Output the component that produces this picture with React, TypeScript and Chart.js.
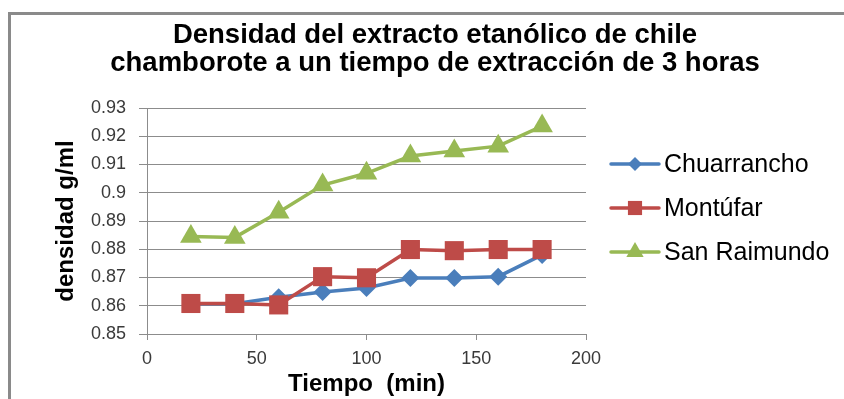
import React, { useEffect, useRef } from "react";
import { Chart, registerables } from "chart.js";

Chart.register(...registerables);

const titleLines = ["Densidad del extracto etanólico de chile", "chamborote a un tiempo de extracción de 3 horas"];
const xTitle = "Tiempo  (min)";
const yTitle = "densidad g/ml";
const tiempos = [20, 40, 60, 80, 100, 120, 140, 160, 180];
const chuarrancho = [0.8607, 0.8607, 0.863, 0.8649, 0.8663, 0.8698, 0.8698, 0.8703, 0.878];
const montufar = [0.8608, 0.8608, 0.8603, 0.8703, 0.8699, 0.8799, 0.8795, 0.8799, 0.8799];
const sanRaimundo = [0.8845, 0.8842, 0.8931, 0.9027, 0.9069, 0.913, 0.9148, 0.9165, 0.9236];
const seriesNames = ["Chuarrancho", "Montúfar", "San Raimundo"];
const seriesColors = ["#4A7EBB", "#BE4B48", "#98B954"];
const seriesShapes = ["rectRot", "rect", "triangle"];
const yTicks = { min: 0.85, max: 0.93, step: 0.01 };
const xTicks = { min: 0, max: 200, step: 50 };

function drawShape(ctx: CanvasRenderingContext2D, shape: string, x: number, y: number, r: number) {
  ctx.beginPath();
  if (shape === "rectRot") {
    ctx.moveTo(x - r, y);
    ctx.lineTo(x, y - r);
    ctx.lineTo(x + r, y);
    ctx.lineTo(x, y + r);
  } else if (shape === "rect") {
    const s = r * Math.SQRT1_2;
    ctx.rect(x - s, y - s, 2 * s, 2 * s);
  } else {
    ctx.moveTo(x, y - r);
    ctx.lineTo(x + 0.866 * r, y + 0.5 * r);
    ctx.lineTo(x - 0.866 * r, y + 0.5 * r);
  }
  ctx.closePath();
  ctx.fill();
}

const decorPlugin = {
  id: "decor",
  afterDraw(chart: any) {
    const ctx: CanvasRenderingContext2D = chart.ctx;
    ctx.save();
    // frame
    ctx.fillStyle = "#8a8a8a";
    ctx.fillRect(8, 12, 836, 3);
    ctx.fillRect(8, 12, 3, 387);
    // title
    ctx.fillStyle = "#000";
    ctx.font = "bold 27.5px 'Liberation Sans', Arial, sans-serif";
    ctx.textAlign = "center";
    ctx.textBaseline = "alphabetic";
    ctx.fillText(titleLines[0], 435, 43);
    ctx.fillText(titleLines[1], 435, 71);
    // legend
    const rows = [164, 208, 252];
    const radii = [7, 10, 10];
    ctx.font = "25px 'Liberation Sans', Arial, sans-serif";
    ctx.textAlign = "left";
    ctx.textBaseline = "middle";
    seriesNames.forEach((name, i) => {
      const y = rows[i];
      ctx.strokeStyle = seriesColors[i];
      ctx.fillStyle = seriesColors[i];
      ctx.lineWidth = 3.5;
      ctx.lineCap = "round";
      ctx.beginPath();
      ctx.moveTo(611, y);
      ctx.lineTo(659, y);
      ctx.stroke();
      drawShape(ctx, seriesShapes[i], 635, y, radii[i]);
      ctx.fillStyle = "#000";
      ctx.fillText(name, 664, y + 1);
    });
    ctx.restore();
  },
};

export default function App() {
  const ref = useRef<HTMLCanvasElement | null>(null);
  useEffect(() => {
    if (!ref.current) return;
    const mk = (label: string, data: number[], i: number, radius: number, order: number) => ({
      label,
      data: tiempos.map((t, k) => ({ x: t, y: data[k] })),
      borderColor: seriesColors[i],
      backgroundColor: seriesColors[i],
      pointBackgroundColor: seriesColors[i],
      pointBorderColor: seriesColors[i],
      pointBorderWidth: 0,
      pointStyle: seriesShapes[i],
      pointRadius: radius,
      borderWidth: 3.5,
      tension: 0,
      order,
    });
    const chart = new Chart(ref.current, {
      type: "line",
      data: {
        datasets: [
          mk(seriesNames[0], chuarrancho, 0, 9, 3),
          mk(seriesNames[1], montufar, 1, 13.5, 2),
          mk(seriesNames[2], sanRaimundo, 2, 12.5, 1),
        ],
      },
      options: {
        responsive: false,
        animation: false,
        layout: { padding: { left: 0, top: 108, right: 258, bottom: 0 } },
        plugins: { legend: { display: false }, title: { display: false }, tooltip: { enabled: false } },
        scales: {
          x: {
            type: "linear",
            min: xTicks.min,
            max: xTicks.max,
            afterFit: (s: any) => { s.height = 65; },
            ticks: { stepSize: xTicks.step, color: "#3a3a3a", font: { size: 18, family: "'Liberation Sans', Arial" }, padding: 8 },
            grid: { drawOnChartArea: false, drawTicks: true, tickLength: 6, color: "#8c8c8c" },
            border: { color: "#8c8c8c", width: 1 },
            title: { display: true, text: xTitle, color: "#000", font: { size: 24, weight: "bold", family: "'Liberation Sans', Arial" }, padding: { top: 0, bottom: 0 } },
          },
          y: {
            type: "linear",
            min: yTicks.min,
            max: yTicks.max,
            afterFit: (s: any) => { s.width = 147; },
            ticks: {
              stepSize: yTicks.step,
              color: "#3a3a3a",
              font: { size: 18, family: "'Liberation Sans', Arial" },
              padding: 13,
              callback: (v: any) => String(Number(Number(v).toFixed(2))),
            },
            grid: { color: "#8c8c8c", tickLength: 8, drawTicks: true },
            border: { color: "#8c8c8c", width: 1 },
            title: { display: true, text: yTitle, color: "#000", font: { size: 24, weight: "bold", family: "'Liberation Sans', Arial" }, padding: { top: 52, bottom: 0 } },
          },
        },
      } as any,
      plugins: [decorPlugin],
    });
    return () => chart.destroy();
  }, []);
  return (
    <canvas
      ref={ref}
      width={844}
      height={399}
      style={{ position: "fixed", left: 0, top: 0, width: 844, height: 399, display: "block", background: "#fff" }}
    />
  );
}
